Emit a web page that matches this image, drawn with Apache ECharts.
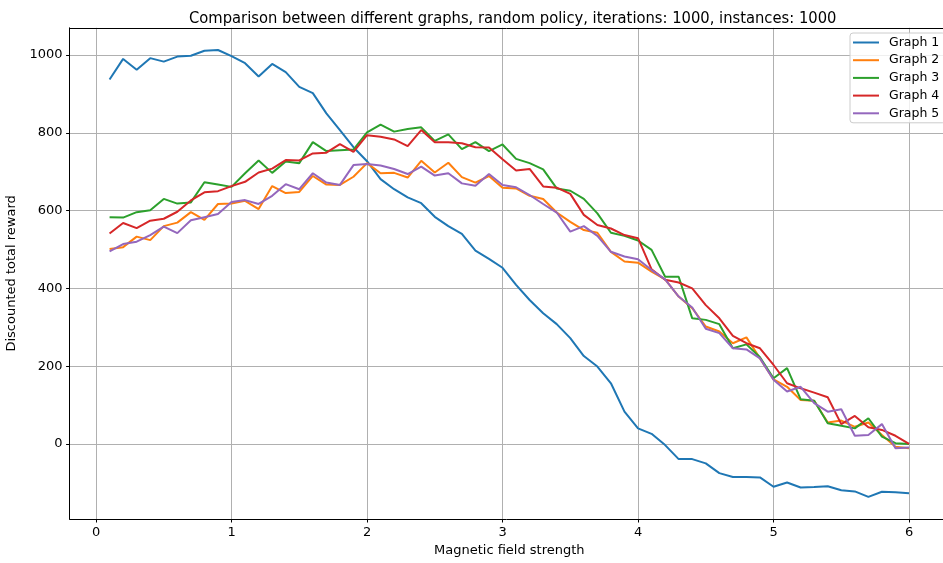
<!DOCTYPE html>
<html>
<head>
<meta charset="utf-8">
<script src="https://cdn.jsdelivr.net/npm/echarts@6/dist/echarts.min.js"></script>
<style>html,body{margin:0;padding:0;background:#fff}#c{width:943px;height:563px}</style>
</head>
<body>
<div id="c"></div>
<script>
var fieldStrength = [0.1,0.2,0.3,0.4,0.5,0.6,0.7,0.8,0.9,1.0,1.1,1.2,1.3,1.4,1.5,1.6,1.7,1.8,1.9,2.0,2.1,2.2,2.3,2.4,2.5,2.6,2.7,2.8,2.9,3.0,3.1,3.2,3.3,3.4,3.5,3.6,3.7,3.8,3.9,4.0,4.1,4.2,4.3,4.4,4.5,4.6,4.7,4.8,4.9,5.0,5.1,5.2,5.3,5.4,5.5,5.6,5.7,5.8,5.9,6.0];
var graph1 = [937,990,962,992,983,996,998,1011,1013,997, 979,945,977,956,918,902,850,807,763,727, 681,655,634,619,584,560,540,497,476,453, 409,370,336,308,272,226,199,156,83,40, 26,-3,-39,-39,-50,-75,-85,-85,-86,-110, -99,-112,-111,-109,-119,-122,-136,-123,-124,-127];
var graph2 = [501,506,533,524,560,569,596,576,617,618, 625,604,663,645,648,689,667,666,687,722, 696,697,685,728,698,723,686,672,689,659, 657,638,630,595,571,550,543,494,469,466, 443,423,379,349,302,289,259,274,220,166, 147,113,111,55,60,44,55,23,-7,-11];
var graph3 = [583,582,596,601,630,618,621,673,667,661, 696,729,697,726,722,776,753,755,757,801, 821,803,810,814,779,796,758,776,753,770, 733,722,706,657,651,630,593,543,535,523, 499,430,430,323,319,308,246,256,223,169, 195,115,111,53,47,40,66,19,2,0];
var graph4 = [541,568,555,574,579,597,626,647,650,663, 674,698,708,730,729,747,749,771,751,794, 790,783,766,807,776,776,773,763,762,732, 703,707,662,659,643,589,563,554,537,529, 449,422,415,400,357,323,278,259,246,203, 156,143,132,120,51,72,43,36,21,0];
var graph5 = [495,514,520,537,559,542,575,583,591,622, 627,617,638,668,655,696,672,666,717,720, 716,707,694,713,690,696,670,664,694,666, 660,640,617,595,546,560,535,494,482,475, 447,423,379,351,296,285,246,243,220,165, 135,147,105,83,89,21,23,51,-11,-9];
var seriesNames = ['Graph 1','Graph 2','Graph 3','Graph 4','Graph 5'];
var seriesValues = [graph1, graph2, graph3, graph4, graph5];
var colors = ['#1f77b4','#ff7f0e','#2ca02c','#d62728','#9467bd'];
var xTicks = [0,1,2,3,4,5,6];
var yTicks = [0,200,400,600,800,1000];

var FONT = 'DejaVu Sans';
var chart = echarts.init(document.getElementById('c'), null, {renderer:'canvas'});
function pairs(vals){ return vals.map(function(v,i){ return [fieldStrength[i], v]; }); }
var option = {
  animation: false,
  backgroundColor: '#ffffff',
  color: colors,
  textStyle: {fontFamily: FONT},
  title: {
    text: 'Comparison between different graphs, random policy, iterations: 1000, instances: 1000',
    left: 184, top: 6,
    textStyle: {fontFamily: '"DejaVu Sans Condensed", "DejaVu Sans"', fontSize: 16.4, fontWeight: 'normal', color: '#000'}
  },
  grid: {left: 69.6, top: 27.8, width: 879.4, height: 491.2, containLabel: false, outerBoundsMode: 'none'},
  legend: {
    orient: 'vertical', left: 850, top: 33,
    icon: 'path://M0,0 L26,0 L26,2 L0,2 Z',
    symbolKeepAspect: true,
    itemWidth: 26, itemHeight: 14, itemGap: 4.7,
    padding: [3, 6, 3, 3],
    borderColor: '#cccccc', borderWidth: 1, borderRadius: 3,
    backgroundColor: 'rgba(255,255,255,0.8)',
    textStyle: {fontFamily: FONT, fontSize: 12.5, color: '#000', padding: [0,0,0,5]},
    data: seriesNames
  },
  xAxis: [{
    type: 'value', min: -0.195, max: 6.295,
    name: 'Magnetic field strength', nameLocation: 'middle', nameGap: 25,
    nameTextStyle: {fontFamily: FONT, fontSize: 13, color: '#000'},
    axisLine: {show: true, onZero: false, lineStyle: {color: '#000', width: 1}},
    axisTick: {show: true, length: 3.5, customValues: xTicks, lineStyle: {color: '#000'}},
    axisLabel: {customValues: xTicks, margin: 7, fontFamily: FONT, fontSize: 13, color: '#000', formatter: function(v){ return String(v); }},
    splitLine: {show: true, lineStyle: {color: '#b0b0b0', width: 1}}
  },{
    type: 'value', position: 'top', min: -0.195, max: 6.295,
    axisLine: {show: true, onZero: false, lineStyle: {color: '#000', width: 1}},
    axisTick: {show: false}, axisLabel: {show: false}, splitLine: {show: false}
  }],
  yAxis: [{
    type: 'value', min: -193, max: 1070,
    name: 'Discounted total reward', nameLocation: 'middle', nameGap: 38,
    nameTextStyle: {fontFamily: FONT, fontSize: 13, color: '#000'},
    axisLine: {show: true, onZero: false, lineStyle: {color: '#000', width: 1}},
    axisTick: {show: true, length: 3.5, customValues: yTicks, lineStyle: {color: '#000'}},
    axisLabel: {customValues: yTicks, margin: 7, fontFamily: FONT, fontSize: 13, color: '#000', formatter: function(v){ return String(v); }},
    splitLine: {show: true, lineStyle: {color: '#b0b0b0', width: 1}}
  }],
  series: seriesNames.map(function(n, i){
    return {
      name: n, type: 'line', data: pairs(seriesValues[i]),
      symbol: 'none', showSymbol: false,
      lineStyle: {width: 2, color: colors[i]},
      itemStyle: {color: colors[i]},
      z: 2 + i
    };
  })
};
chart.setOption(option);
</script>
</body>
</html>
